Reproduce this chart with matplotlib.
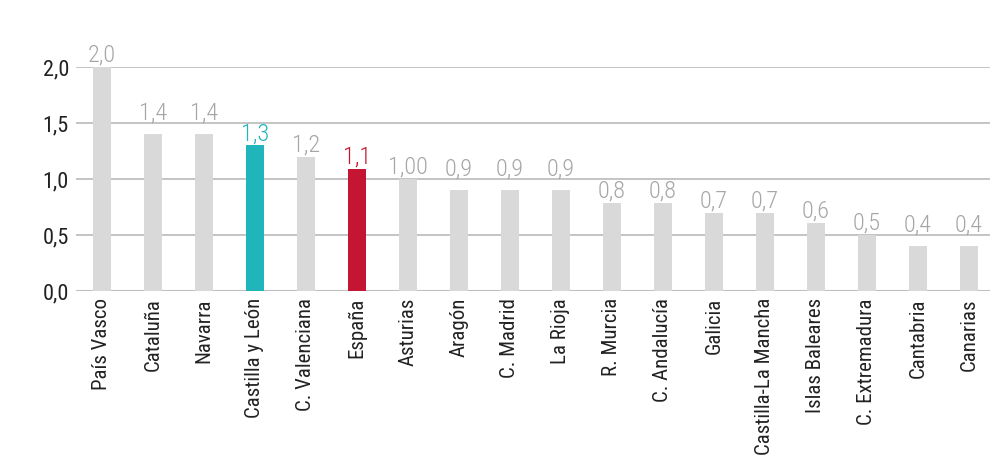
import matplotlib
matplotlib.use("Agg")
import matplotlib.pyplot as plt
from matplotlib import font_manager

# pick a narrow font if there is one
names = set(f.name for f in font_manager.fontManager.ttflist)
fam = "Roboto"
for n in ["Roboto Condensed", "Liberation Sans Narrow", "Roboto"]:
    if n in names:
        fam = n
        break
plt.rcParams['font.family'] = [fam, 'DejaVu Sans']

regiones = ["País Vasco", "Cataluña", "Navarra", "Castilla y León", "C. Valenciana",
            "España", "Asturias", "Aragón", "C. Madrid", "La Rioja", "R. Murcia",
            "C. Andalucía", "Galicia", "Castilla-La Mancha", "Islas Baleares",
            "C. Extremadura", "Cantabria", "Canarias"]
valores = [2.0, 1.4, 1.4, 1.3, 1.2, 1.09, 1.0, 0.9, 0.9, 0.9, 0.79, 0.79,
           0.7, 0.7, 0.61, 0.5, 0.4, 0.4]
etiquetas = ["2,0", "1,4", "1,4", "1,3", "1,2", "1,1", "1,00", "0,9", "0,9", "0,9",
             "0,8", "0,8", "0,7", "0,7", "0,6", "0,5", "0,4", "0,4"]
yticks = [0.0, 0.5, 1.0, 1.5, 2.0]
yticklabels = ["0,0", "0,5", "1,0", "1,5", "2,0"]

gris = "#d9d9d9"
colores = [gris] * len(regiones)
colores[3] = "#20b5bb"
colores[5] = "#c41632"
col_txt = ["#a6a6a6"] * len(regiones)
col_txt[3] = "#20b5bb"
col_txt[5] = "#c41632"

fig = plt.figure(figsize=(10.02, 4.62), dpi=100)
ax = fig.add_axes([0.0758, 0.370, 0.912, 0.485])

x = list(range(len(regiones)))
ax.bar(x, valores, width=0.35, color=colores, zorder=2)
for i in x:
    # label sits over the bar, but is pushed above a gridline it would cross
    y = valores[i] + 0.045
    for g in yticks:
        if valores[i] < g < valores[i] + 0.17:
            y = g + 0.03
    ax.text(i, y, etiquetas[i], ha="center", va="baseline",
            fontsize=17.5, fontweight="light", color=col_txt[i], clip_on=False)

ax.set_xlim(-0.51, len(regiones) - 0.59)
ax.set_ylim(0, 2.0)
ax.set_yticks(yticks)
ax.set_yticklabels(yticklabels, fontsize=16, color="#222222")
ax.set_xticks(x)
ax.set_xticklabels(regiones, rotation=90, fontsize=15, color="#222222")
ax.tick_params(length=0, pad=5)
ax.tick_params(axis="x", pad=5)
ax.grid(axis="y", color="#bfbfbf", linewidth=1.3, zorder=1)
ax.set_axisbelow(True)
for s in ax.spines.values():
    s.set_visible(False)
ax.axhline(0, color="#bfbfbf", linewidth=1.5, zorder=1)

fig.savefig("out.png", dpi=100)
